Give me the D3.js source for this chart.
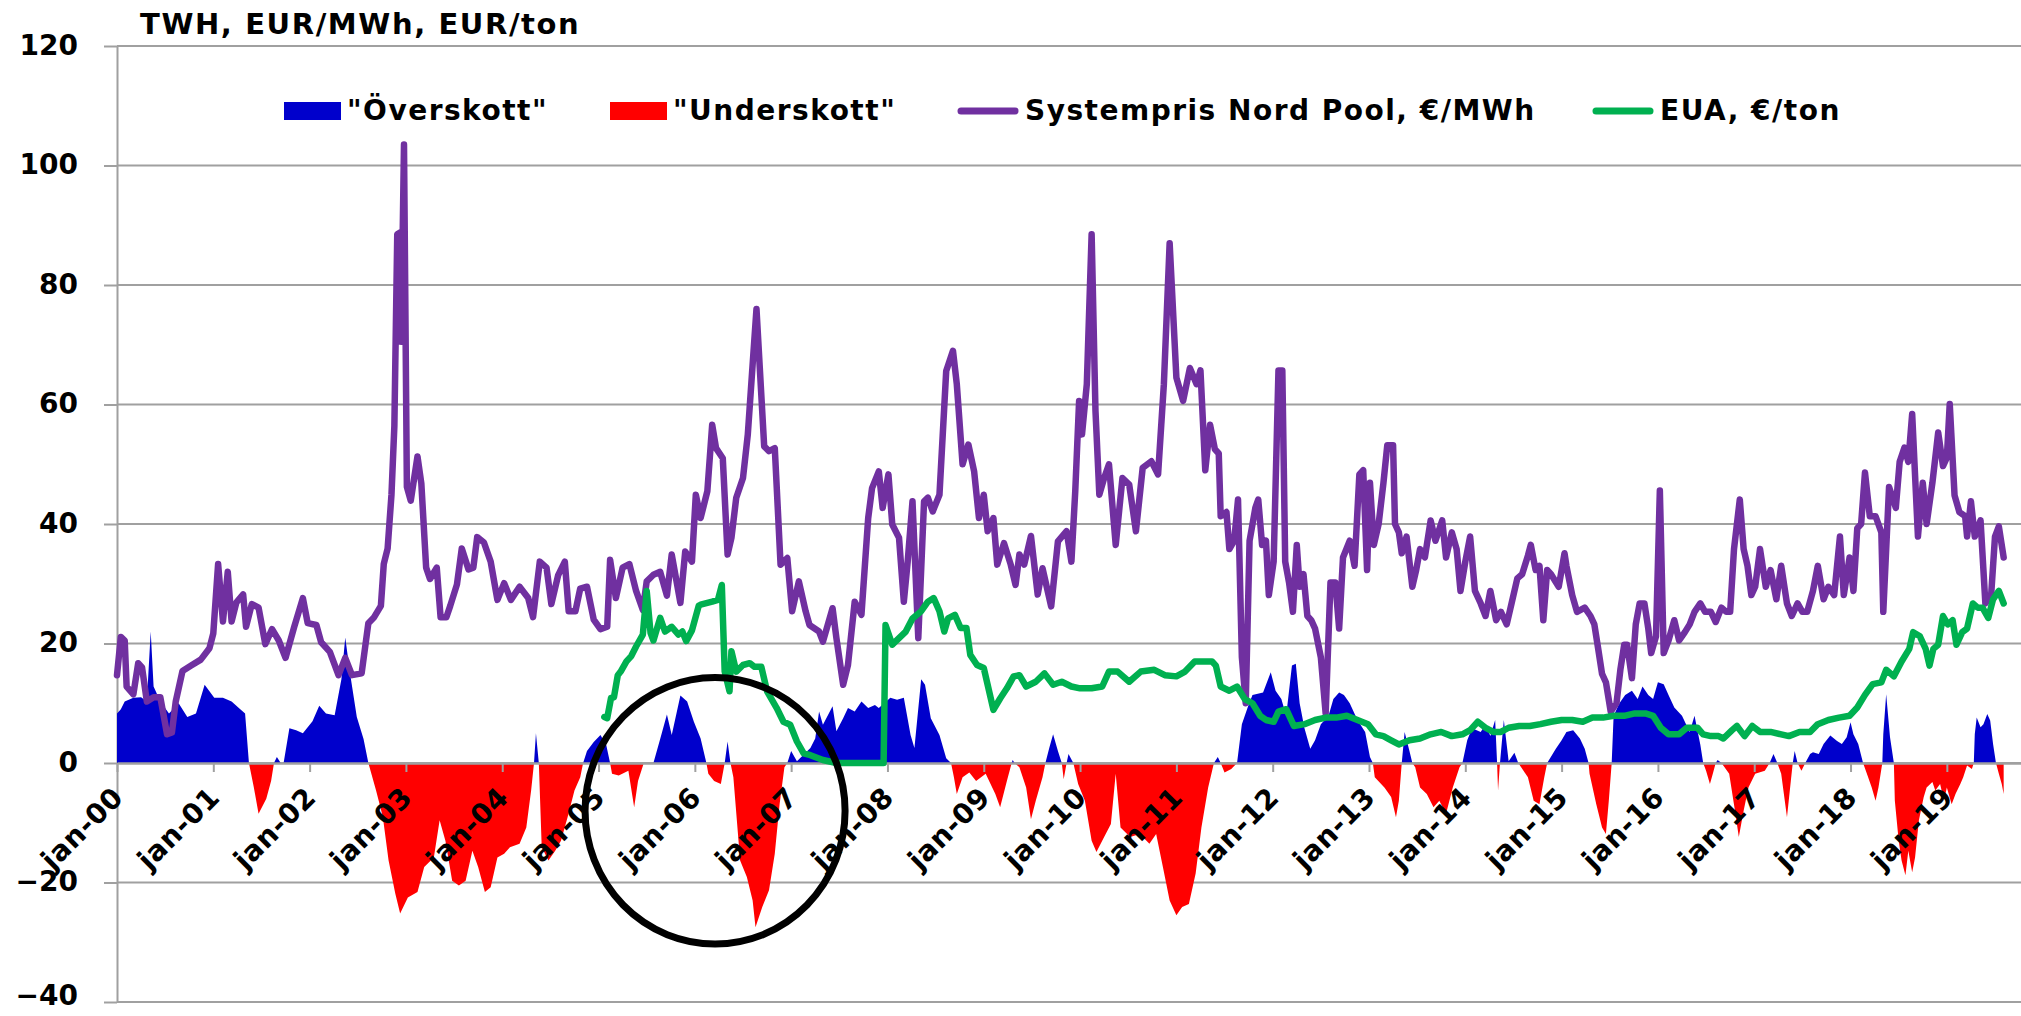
<!DOCTYPE html>
<html>
<head>
<meta charset="utf-8">
<script src="https://d3js.org/d3.v7.min.js"></script>
<style>
  body { margin: 0; background: #fff; }
  text { font-family: "DejaVu Sans", Verdana, sans-serif; font-weight: bold; fill: #000; }
</style>
</head>
<body>
<svg id="chart"></svg>
<script>
  var width = 2021, height = 1016;

  // ---- data (x = years since jan-2000) ----
  var yTicks = [-40, -20, 0, 20, 40, 60, 80, 100, 120];
  var tickLabels = ["jan-00","jan-01","jan-02","jan-03","jan-04","jan-05","jan-06","jan-07","jan-08","jan-09",
                    "jan-10","jan-11","jan-12","jan-13","jan-14","jan-15","jan-16","jan-17","jan-18","jan-19"];

  // hydrological balance, TWh: positive = "Överskott", negative = "Underskott"
  var balance = [[0.00,8.3],[0.04,9],[0.08,10.3],[0.17,10.9],[0.25,11],[0.31,10.3],[0.35,22],[0.38,12.8],[0.45,10.3],[0.54,8.3],
    [0.64,10],[0.73,7.7],[0.82,8.3],[0.91,13.1],[1.01,10.9],[1.10,10.9],[1.19,10.3],[1.28,9],[1.33,8.3],[1.37,0],
    [1.42,-4],[1.47,-8.5],[1.55,-6],[1.60,-3],[1.63,0],[1.66,1],[1.70,0],[1.73,0],[1.79,5.8],[1.86,5.5],
    [1.93,5],[2.03,7],[2.10,9.6],[2.17,8.3],[2.26,8],[2.33,14],[2.37,21],[2.42,15],[2.49,7.7],[2.56,4],
    [2.61,0],[2.69,-4.6],[2.76,-9],[2.82,-16.3],[2.89,-21.9],[2.94,-25.2],[3.02,-22.5],[3.12,-21.6],[3.19,-17.4],[3.29,-15.8],
    [3.35,-9.6],[3.41,-13],[3.48,-19.7],[3.55,-20.5],[3.62,-19.7],[3.69,-14.7],[3.75,-17.4],[3.82,-21.6],[3.88,-20.8],[3.95,-15.8],
    [4.02,-15.2],[4.08,-14.1],[4.18,-13.5],[4.25,-10.8],[4.30,-4.6],[4.33,0],[4.35,5],[4.38,0],[4.41,-14.1],[4.48,-16.3],
    [4.55,-14.7],[4.61,-13],[4.68,-9],[4.75,-4.6],[4.81,-2.4],[4.84,0],[4.88,2],[4.95,3.5],[5.02,4.7],[5.08,3],
    [5.12,0],[5.14,-1.8],[5.21,-2.1],[5.31,-1.3],[5.37,-7.4],[5.41,-3],[5.47,0],[5.57,0],[5.64,4],[5.71,8.1],
    [5.76,4.7],[5.85,11.3],[5.92,10.3],[5.99,6.9],[6.06,4.1],[6.12,0],[6.14,-1.8],[6.20,-3],[6.27,-3.5],[6.31,0],
    [6.34,3.6],[6.37,0],[6.40,-2.4],[6.47,-16.3],[6.54,-19.1],[6.60,-23],[6.63,-27.5],[6.70,-24.1],[6.77,-21.3],[6.83,-15.2],
    [6.88,-6.9],[6.93,-0.7],[6.96,0],[7.00,2],[7.06,0.3],[7.20,2.5],[7.25,4.1],[7.29,8.6],[7.33,6.4],[7.43,9.5],
    [7.47,5.3],[7.54,7.5],[7.59,9.2],[7.66,8.6],[7.73,10.3],[7.80,9.2],[7.87,9.7],[7.91,9.2],[8.03,10.9],[8.10,10.6],
    [8.17,10.9],[8.24,4.7],[8.28,2.5],[8.35,14],[8.39,13.1],[8.45,7.5],[8.54,4.7],[8.61,0.8],[8.66,0],[8.69,-2.4],
    [8.72,-5.2],[8.78,-2.4],[8.85,-1.6],[8.92,-3],[9.02,-1.8],[9.12,-5.2],[9.17,-7.4],[9.24,-3],[9.29,0],[9.30,0.5],
    [9.32,0],[9.37,-0.7],[9.44,-4.1],[9.49,-9.4],[9.54,-6.3],[9.61,-2.4],[9.64,0],[9.68,2.5],[9.72,4.8],[9.77,2],
    [9.81,0],[9.83,-2.7],[9.86,0],[9.88,1.5],[9.93,0],[9.98,-3.5],[10.05,-6.3],[10.12,-13],[10.17,-14.9],[10.25,-12.4],
    [10.32,-10.2],[10.37,-1.8],[10.42,-10.8],[10.52,-12.4],[10.62,-11.9],[10.72,-13.5],[10.79,-11.9],[10.86,-17.4],[10.93,-23],[11.00,-25.5],
    [11.06,-24.1],[11.13,-23.6],[11.20,-18.5],[11.26,-10.8],[11.33,-4.1],[11.39,0],[11.43,1],[11.46,0],[11.50,-1.6],[11.57,-1],
    [11.63,0],[11.68,6.5],[11.74,9.3],[11.79,11.4],[11.90,11.8],[11.98,15.2],[12.03,12.1],[12.09,10.7],[12.14,7.9],[12.20,16.3],
    [12.24,16.6],[12.28,10],[12.33,5.8],[12.39,2.4],[12.44,3.8],[12.50,6.5],[12.58,7.9],[12.63,10.7],[12.69,11.8],[12.74,11.4],
    [12.80,10],[12.88,7.2],[12.96,5.2],[13.01,1],[13.04,0],[13.06,-2.4],[13.16,-4.1],[13.23,-5.7],[13.28,-9.1],[13.31,-6.3],
    [13.34,0],[13.37,5.2],[13.42,2],[13.45,0],[13.48,-0.7],[13.53,-4.1],[13.60,-5.2],[13.67,-7.4],[13.73,-6.3],[13.80,-8.5],
    [13.87,-4.1],[13.94,-0.7],[13.97,0],[14.02,3.8],[14.07,5.8],[14.16,5.2],[14.21,6.5],[14.26,4.5],[14.31,7.2],[14.33,0],
    [14.34,-4.6],[14.36,0],[14.40,7.2],[14.45,0.3],[14.51,1.7],[14.55,0],[14.58,-0.7],[14.65,-2.4],[14.71,-6.3],[14.77,-6.9],
    [14.82,-2.4],[14.85,0],[14.94,2.4],[15.00,3.8],[15.05,5.2],[15.12,5.5],[15.19,4.1],[15.24,2.4],[15.28,0],[15.29,-1.8],
    [15.36,-6.9],[15.42,-10.8],[15.46,-11.9],[15.49,-6.3],[15.52,0],[15.54,7.9],[15.60,10],[15.66,11.4],[15.73,12.1],[15.79,10.7],
    [15.84,12.8],[15.90,11.4],[15.95,10.7],[16.00,13.5],[16.06,13.2],[16.11,11.4],[16.17,9.3],[16.25,7.9],[16.33,5.2],[16.38,7.9],
    [16.44,3.1],[16.47,0],[16.50,-1.3],[16.54,-3.5],[16.57,-1.8],[16.60,0],[16.62,0.5],[16.66,0],[16.74,-1.8],[16.80,-8],
    [16.84,-12.4],[16.89,-8],[16.94,-4.1],[17.01,-1.8],[17.11,-1.3],[17.16,0],[17.20,1.5],[17.24,0],[17.28,-1.8],[17.34,-9.1],
    [17.38,-3],[17.40,0],[17.42,2],[17.45,0],[17.49,-1.3],[17.53,0],[17.58,1.5],[17.61,1.8],[17.67,1.5],[17.72,3.2],
    [17.79,4.6],[17.86,3.7],[17.91,3.2],[17.96,4.3],[18.00,6.8],[18.03,4.8],[18.08,3.2],[18.13,0],[18.17,-1.8],[18.22,-4.1],
    [18.26,-6.3],[18.29,-4.1],[18.33,0],[18.34,4.8],[18.37,11.5],[18.41,4.3],[18.45,0],[18.46,-6.3],[18.50,-13],[18.53,-16.3],
    [18.57,-18.8],[18.60,-14.7],[18.64,-18.3],[18.67,-15.8],[18.71,-9.6],[18.76,-5.7],[18.79,-4.1],[18.85,-3.2],[18.88,-4.6],[18.93,-3.5],
    [18.97,-6.3],[19.00,-4.1],[19.05,-6.9],[19.09,-5.2],[19.14,-3.5],[19.17,-2.4],[19.21,-0.4],[19.26,-1],[19.28,0],[19.29,4.8],
    [19.31,7.6],[19.35,6],[19.38,6.5],[19.42,8.2],[19.45,7.1],[19.48,3.2],[19.51,0],[19.54,-1.8],[19.57,-3.5],[19.59,-5.2]];

  // Systempris Nord Pool, EUR/MWh
  var price = [[0.00,14.7],[0.04,21.1],[0.08,20.5],[0.10,12.8],[0.17,11.5],[0.22,16.7],[0.26,16],[0.31,10.3],[0.38,11],[0.45,11],
    [0.52,4.8],[0.57,5.1],[0.61,10.3],[0.68,15.4],[0.77,16.3],[0.87,17.3],[0.96,19.2],[1.00,21.7],[1.05,33.3],[1.10,23.7],
    [1.15,32],[1.19,23.7],[1.24,26.9],[1.31,28.2],[1.34,22.8],[1.40,26.6],[1.47,26],[1.54,19.9],[1.61,22.4],[1.68,20.5],
    [1.75,17.6],[1.84,22.8],[1.93,27.6],[1.98,23.4],[2.07,23.1],[2.12,20.2],[2.21,18.6],[2.30,14.7],[2.37,17.6],[2.44,14.7],
    [2.54,15],[2.61,23.4],[2.67,24.4],[2.74,26.3],[2.77,33.3],[2.81,35.9],[2.85,44.9],[2.88,56.4],[2.91,88.5],[2.94,88.8],
    [2.95,70.5],[2.98,103.5],[3.01,46.2],[3.05,43.9],[3.12,51.3],[3.16,46.8],[3.21,32.7],[3.25,30.8],[3.32,32.7],[3.36,24.4],
    [3.42,24.4],[3.46,26.3],[3.53,29.9],[3.58,35.9],[3.65,32.4],[3.70,32.7],[3.74,37.8],[3.81,36.9],[3.88,33.7],[3.95,27.3],
    [4.02,30.1],[4.09,27.3],[4.18,29.5],[4.27,27.6],[4.32,24.4],[4.39,33.7],[4.46,32.7],[4.51,26.6],[4.58,31.4],[4.65,33.7],
    [4.69,25.4],[4.76,25.4],[4.81,29.2],[4.88,29.5],[4.95,24],[5.02,22.4],[5.09,22.8],[5.12,34],[5.18,27.6],[5.25,32.7],
    [5.32,33.3],[5.39,28.8],[5.46,25.6],[5.50,30.4],[5.57,31.5],[5.64,32],[5.71,28],[5.76,34.9],[5.85,26.8],[5.90,35.4],
    [5.97,33.7],[6.01,44.9],[6.06,41],[6.13,45.5],[6.18,56.6],[6.22,52.7],[6.29,51],[6.34,34.9],[6.38,37.7],[6.43,44.4],
    [6.50,47.7],[6.55,55],[6.60,66.7],[6.64,76],[6.68,64.5],[6.72,53],[6.77,52.2],[6.83,52.7],[6.89,33.2],[6.96,34.3],
    [7.01,25.4],[7.08,30.4],[7.15,25.4],[7.19,23.1],[7.29,22],[7.33,20.3],[7.43,25.9],[7.47,20.9],[7.54,13.1],[7.59,16.4],
    [7.66,27],[7.73,24.8],[7.80,41],[7.84,46],[7.91,48.8],[7.95,42.7],[8.01,48.3],[8.05,39.9],[8.12,37.7],[8.17,27],
    [8.21,33.7],[8.26,43.8],[8.32,20.9],[8.38,43.8],[8.42,44.4],[8.47,42.1],[8.54,44.9],[8.61,65.6],[8.68,69],[8.72,63.4],
    [8.78,50],[8.84,53.3],[8.90,48.8],[8.95,41],[9.00,44.9],[9.04,38.8],[9.10,41],[9.14,33.2],[9.21,36.8],[9.28,33.2],
    [9.33,29.8],[9.37,34.9],[9.42,33.2],[9.49,38],[9.56,28.2],[9.61,32.6],[9.70,26.2],[9.77,37.1],[9.86,38.8],[9.91,33.7],
    [9.95,45.5],[9.99,60.6],[10.02,55],[10.07,63.4],[10.12,88.5],[10.16,58.9],[10.20,44.9],[10.25,47.7],[10.30,50],[10.37,36.5],
    [10.44,47.7],[10.51,46.6],[10.58,38.8],[10.65,49.4],[10.74,50.5],[10.81,48.3],[10.87,63.4],[10.93,87],[11.00,64.5],[11.07,60.6],
    [11.14,66.1],[11.21,63.4],[11.25,65.7],[11.30,49],[11.35,56.6],[11.40,52.5],[11.44,51.8],[11.46,41.3],[11.52,42],[11.55,35.8],
    [11.60,37.2],[11.64,44.1],[11.68,17.7],[11.72,10],[11.76,37.2],[11.82,42.7],[11.85,44.1],[11.89,36.5],[11.93,37.2],[11.96,28.1],
    [12.01,33.7],[12.06,65.7],[12.10,65.7],[12.13,33.7],[12.17,30.2],[12.21,25.3],[12.25,36.5],[12.28,29.5],[12.32,31.6],[12.36,24.6],
    [12.40,23.9],[12.44,22.5],[12.50,17.7],[12.55,8.3],[12.60,30.2],[12.65,30.2],[12.69,22.5],[12.73,34.4],[12.80,37.2],[12.85,33],
    [12.90,48.3],[12.94,49],[12.98,32.3],[13.01,46.9],[13.05,36.5],[13.10,40],[13.15,46.9],[13.19,53.2],[13.25,53.2],[13.27,40],
    [13.31,38.6],[13.34,35.1],[13.39,37.9],[13.45,29.5],[13.49,32.3],[13.53,35.8],[13.58,34.4],[13.64,40.6],[13.69,37.2],[13.76,40.6],
    [13.80,34.4],[13.86,38.6],[13.91,35.8],[13.95,28.8],[14.00,33.7],[14.05,37.9],[14.10,28.8],[14.16,26.7],[14.21,24.6],[14.26,28.8],
    [14.32,23.9],[14.37,25.3],[14.43,23.2],[14.48,26.7],[14.54,30.9],[14.59,31.6],[14.65,34.7],[14.68,36.5],[14.73,32.3],[14.77,33],
    [14.81,23.9],[14.85,32.3],[14.89,31.6],[14.97,29.5],[15.03,35.1],[15.05,33],[15.11,28.1],[15.16,25.3],[15.24,26],[15.30,24.6],
    [15.34,23.2],[15.38,19.1],[15.42,14.9],[15.46,13.5],[15.51,8.6],[15.57,10],[15.61,15.6],[15.65,19.8],[15.68,19.8],[15.73,14.2],
    [15.77,23.2],[15.81,26.7],[15.86,26.7],[15.90,22.5],[15.93,18.4],[15.98,21.2],[16.02,45.6],[16.06,18.4],[16.11,20.5],[16.17,23.9],
    [16.22,20.5],[16.28,21.9],[16.33,23.2],[16.38,25.3],[16.44,26.7],[16.49,25.3],[16.55,25.3],[16.60,23.6],[16.66,26],[16.71,25.3],
    [16.75,25.3],[16.79,35.8],[16.85,44.1],[16.89,35.8],[16.93,33],[16.97,28.1],[17.01,29.5],[17.06,35.8],[17.12,29.5],[17.17,32.3],
    [17.23,27.4],[17.28,33],[17.34,26.7],[17.39,24.6],[17.45,26.7],[17.50,25.3],[17.55,25.3],[17.61,28.8],[17.66,33],[17.72,27.4],
    [17.77,29.5],[17.83,28.1],[17.89,37.9],[17.93,28.1],[17.99,34.4],[18.03,28.8],[18.07,39.3],[18.11,40],[18.15,48.6],[18.20,41.3],
    [18.26,41.3],[18.32,38.6],[18.34,25.3],[18.40,46.2],[18.47,42.7],[18.51,50.4],[18.56,52.8],[18.60,50.4],[18.64,58.4],[18.70,37.9],
    [18.75,46.9],[18.79,40],[18.85,46.9],[18.91,55.3],[18.96,49.7],[19.00,51.1],[19.03,60.1],[19.08,44.8],[19.13,42],[19.19,41.3],
    [19.21,37.9],[19.25,43.8],[19.29,37.9],[19.35,40.6],[19.40,26.7],[19.46,28.1],[19.50,37.9],[19.54,39.6],[19.59,34.4]];

  // EUA, EUR/ton
  var eua = [[5.06,7.7],[5.09,7.5],[5.13,10.9],[5.16,11],[5.20,14.7],[5.23,15.3],[5.29,17],[5.34,17.9],[5.39,19.5],[5.46,21.5],
    [5.50,28.8],[5.54,21.8],[5.57,20.5],[5.64,24.3],[5.69,22],[5.76,22.8],[5.83,21.5],[5.87,22],[5.91,20.4],[5.97,22.2],
    [6.04,26.3],[6.06,26.5],[6.18,27],[6.24,27.3],[6.28,29.8],[6.31,15.3],[6.36,12],[6.38,18.7],[6.43,15.3],[6.50,16.4],
    [6.57,16.7],[6.62,16.1],[6.69,16.1],[6.75,12],[6.85,9.2],[6.92,6.9],[6.99,6.4],[7.06,3.6],[7.13,1.6],[7.20,1.3],
    [7.33,0.5],[7.47,0],[7.96,0],[7.98,23.1],[8.05,19.8],[8.12,20.9],[8.19,22],[8.26,24.2],[8.35,25.4],[8.42,27],
    [8.48,27.6],[8.54,25.4],[8.59,22],[8.63,24.2],[8.70,24.8],[8.76,22.6],[8.82,22.6],[8.86,18.1],[8.93,16.4],[9.00,15.9],
    [9.10,8.9],[9.17,10.8],[9.24,12.5],[9.31,14.5],[9.37,14.7],[9.44,12.8],[9.54,13.6],[9.63,15],[9.72,13.1],[9.81,13.6],
    [9.91,12.8],[10.00,12.5],[10.12,12.5],[10.23,12.8],[10.30,15.3],[10.39,15.3],[10.51,13.6],[10.63,15.3],[10.77,15.6],[10.88,14.7],
    [11.00,14.5],[11.09,15.3],[11.19,17],[11.28,17],[11.37,17],[11.41,16.3],[11.46,12.8],[11.55,12.1],[11.63,12.8],[11.71,10.7],
    [11.79,10],[11.87,7.9],[11.93,7.2],[12.01,6.9],[12.06,8.6],[12.14,9],[12.22,6.2],[12.33,6.5],[12.44,7.2],[12.55,7.6],
    [12.66,7.6],[12.77,7.9],[12.88,7.2],[12.99,6.5],[13.07,4.8],[13.15,4.5],[13.23,3.8],[13.31,3.1],[13.42,3.8],[13.53,4.1],
    [13.64,4.8],[13.75,5.2],[13.86,4.5],[13.97,4.8],[14.05,5.5],[14.13,6.9],[14.21,5.9],[14.29,5.2],[14.37,5.2],[14.45,5.9],
    [14.56,6.2],[14.67,6.2],[14.78,6.5],[14.89,6.9],[15.00,7.2],[15.11,7.2],[15.22,6.9],[15.32,7.6],[15.43,7.6],[15.54,7.9],
    [15.65,7.9],[15.76,8.3],[15.87,8.3],[15.95,7.9],[16.03,5.9],[16.11,4.8],[16.22,4.8],[16.30,5.9],[16.41,5.9],[16.47,4.8],
    [16.55,4.5],[16.63,4.5],[16.68,4.1],[16.77,5.5],[16.82,6.2],[16.90,4.5],[16.98,6.2],[17.06,5.2],[17.17,5.2],[17.28,4.8],
    [17.36,4.5],[17.47,5.2],[17.58,5.2],[17.66,6.5],[17.77,7.2],[17.88,7.6],[17.99,7.9],[18.07,9.3],[18.15,11.4],[18.23,13.2],
    [18.32,13.5],[18.37,15.6],[18.45,14.5],[18.53,17],[18.61,19.1],[18.65,21.9],[18.72,21.2],[18.78,19.1],[18.82,16.3],[18.86,19.1],
    [18.91,19.8],[18.96,24.6],[19.01,23.2],[19.06,23.9],[19.10,19.8],[19.16,21.9],[19.21,22.5],[19.27,26.7],[19.32,26],[19.37,26],
    [19.43,24.3],[19.48,27.4],[19.54,28.8],[19.59,26.7]];

  // circled period (jan-06 .. jan-07)
  var highlight = { year: 6.21, value: -8, rxYears: 1.35, ryValue: 22.3 };

  var colors = { over: "#0000CC", under: "#FF0000", price: "#7030A0", eua: "#00B050", grid: "#A0A0A0" };

  var legendItems = [
    { label: "\"Överskott\"", kind: "rect", color: colors.over, x: 284 },
    { label: "\"Underskott\"", kind: "rect", color: colors.under, x: 610 },
    { label: "Systempris Nord Pool, €/MWh", kind: "line", color: colors.price, x: 957 },
    { label: "EUA, €/ton", kind: "line", color: colors.eua, x: 1592 }
  ];

  var plot = { left: 117, right: 2021, top: 46, bottom: 1002 };

  var svg = d3.select("#chart")
    .attr("width", width)
    .attr("height", height);

  var x = d3.scaleLinear().domain([0, 19.77]).range([plot.left, plot.right]);
  var y = d3.scaleLinear().domain([-40, 120]).range([plot.bottom, plot.top]);

  // horizontal gridlines
  svg.append("g")
    .selectAll("line")
    .data(yTicks)
    .join("line")
    .attr("x1", plot.left)
    .attr("x2", plot.right)
    .attr("y1", d => y(d))
    .attr("y2", d => y(d))
    .attr("stroke", colors.grid)
    .attr("stroke-width", 2);

  // y axis with labels
  var yAxis = svg.append("g")
    .attr("transform", "translate(" + plot.left + ",0)")
    .call(d3.axisLeft(y).tickValues(yTicks).tickSize(13).tickSizeOuter(0).tickPadding(26));
  yAxis.select(".domain").attr("stroke", colors.grid).attr("stroke-width", 2);
  yAxis.selectAll(".tick line").attr("stroke", colors.grid).attr("stroke-width", 2);
  yAxis.selectAll(".tick text")
    .attr("font-size", 28)
    .attr("dy", d => d === yTicks[0] ? "0.08em" : "0.3em")   // keep the bottom label inside the page
    .attr("font-family", "DejaVu Sans, Verdana, sans-serif")
    .attr("font-weight", "bold")
    .attr("fill", "#000");

  // balance area, split at zero with clip paths
  var defs = svg.append("defs");
  defs.append("clipPath").attr("id", "clip-above")
    .append("rect").attr("x", plot.left).attr("y", plot.top - 10)
    .attr("width", plot.right - plot.left).attr("height", y(0) - plot.top + 10);
  defs.append("clipPath").attr("id", "clip-below")
    .append("rect").attr("x", plot.left).attr("y", y(0))
    .attr("width", plot.right - plot.left).attr("height", plot.bottom - y(0));

  var area = d3.area()
    .x(d => x(d[0]))
    .y0(y(0))
    .y1(d => y(d[1]));

  svg.append("path")
    .datum(balance)
    .attr("d", area)
    .attr("fill", colors.over)
    .attr("clip-path", "url(#clip-above)");

  svg.append("path")
    .datum(balance)
    .attr("d", area)
    .attr("fill", colors.under)
    .attr("clip-path", "url(#clip-below)");

  // x axis at zero
  var xAxis = svg.append("g")
    .attr("transform", "translate(0," + y(0) + ")")
    .call(d3.axisBottom(x).tickValues(d3.range(tickLabels.length)).tickSize(9).tickSizeOuter(0).tickFormat(""));
  xAxis.select(".domain").attr("stroke", colors.grid).attr("stroke-width", 2.5);
  xAxis.selectAll(".tick line").attr("stroke", colors.grid).attr("stroke-width", 2);

  svg.append("g")
    .selectAll("text")
    .data(tickLabels)
    .join("text")
    .attr("transform", (d, i) => "translate(" + (x(i) + 8) + "," + (y(0) + 36) + ") rotate(-45)")
    .attr("text-anchor", "end")
    .attr("font-size", 28)
    .attr("letter-spacing", 0.5)
    .text(d => d);

  // lines
  var line = d3.line()
    .x(d => x(d[0]))
    .y(d => y(d[1]));

  svg.append("path")
    .datum(price)
    .attr("d", line)
    .attr("fill", "none")
    .attr("stroke", colors.price)
    .attr("stroke-width", 6.5)
    .attr("stroke-linejoin", "round")
    .attr("stroke-linecap", "round");

  svg.append("path")
    .datum(eua)
    .attr("d", line)
    .attr("fill", "none")
    .attr("stroke", colors.eua)
    .attr("stroke-width", 6.5)
    .attr("stroke-linejoin", "round")
    .attr("stroke-linecap", "round");

  // annotation ellipse
  svg.append("ellipse")
    .attr("cx", x(highlight.year))
    .attr("cy", y(highlight.value))
    .attr("rx", x(highlight.rxYears) - x(0))
    .attr("ry", y(0) - y(highlight.ryValue))
    .attr("fill", "none")
    .attr("stroke", "#000")
    .attr("stroke-width", 7);

  // title
  svg.append("text")
    .attr("x", 140)
    .attr("y", 34)
    .attr("font-size", 29)
    .attr("letter-spacing", 1.6)
    .text("TWH, EUR/MWh, EUR/ton");

  // legend
  var legend = svg.append("g").attr("transform", "translate(0,111)");
  legendItems.forEach(function (d) {
    if (d.kind === "rect") {
      legend.append("rect")
        .attr("x", d.x).attr("y", -9)
        .attr("width", 57).attr("height", 18)
        .attr("fill", d.color);
    } else {
      legend.append("line")
        .attr("x1", d.x + 4).attr("x2", d.x + 58)
        .attr("y1", 0).attr("y2", 0)
        .attr("stroke", d.color)
        .attr("stroke-width", 7)
        .attr("stroke-linecap", "round");
    }
    legend.append("text")
      .attr("x", d.x + (d.kind === "rect" ? 63 : 68))
      .attr("y", 9)
      .attr("font-size", 28)
      .attr("letter-spacing", 1.5)
      .text(d.label);
  });
</script>
</body>
</html>
